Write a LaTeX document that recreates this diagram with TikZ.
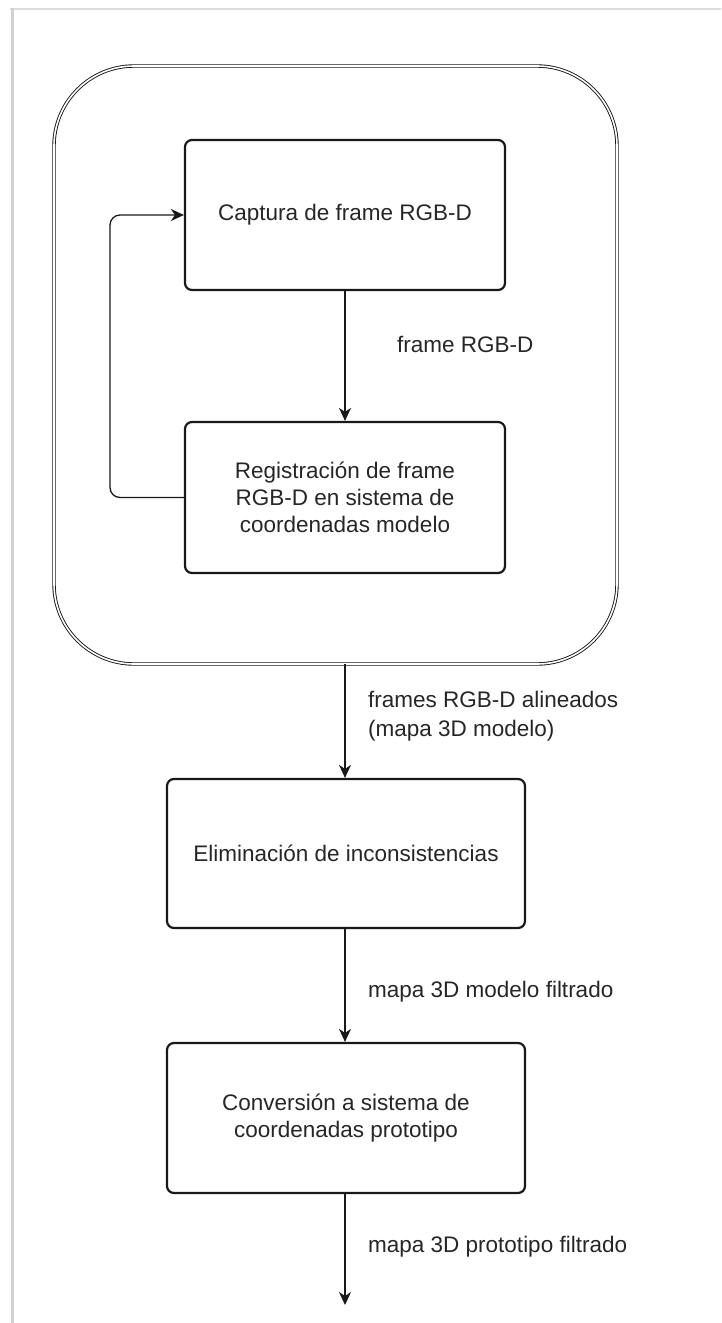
\documentclass[tikz,border=0pt]{standalone}
\usepackage{fontspec}
\setmainfont{Liberation Sans}
\usetikzlibrary{arrows.meta}
\begin{document}
\begin{tikzpicture}[x=1pt,y=-1pt,
  every node/.style={font=\fontsize{22.5}{27}\selectfont, text=black!85},
  procbox/.style={draw=black!90, line width=2.2pt, rounded corners=7pt, align=center, inner sep=0pt},
  arr/.style={draw=black!90, line width=1.3pt, -{Stealth[length=13pt,width=12pt,inset=4pt]}},
  lbl/.style={anchor=west, align=left, inner sep=0pt, font=\fontsize{22.5}{29}\selectfont}
]
\useasboundingbox (0,0) rectangle (721,1323);
% page shadow edges
\fill[black!14] (10,8) rectangle (721,9.5);
\fill[black!18] (11,8) rectangle (14,1323);

% outer container
\node[draw=black!90, double=white, line width=0.9pt, double distance=1.6pt,
      rounded corners=80pt, minimum width=563pt, minimum height=598pt, inner sep=0pt]
      (outer) at (335.5,365) {};

\node[procbox, minimum width=320pt, minimum height=150pt] (b1) at (345,215) {Captura de frame RGB-D};
\node[procbox, minimum width=320pt, minimum height=151pt] (b2) at (345,497.5)
  {Registración de frame\\RGB-D en sistema de\\coordenadas modelo};
\node[procbox, minimum width=358pt, minimum height=149pt] (b3) at (346,853.5) {Eliminación de inconsistencias};
\node[procbox, minimum width=358pt, minimum height=150pt] (b4) at (346,1118)
  {Conversión a sistema de\\coordenadas prototipo};

\coordinate (end) at (345,1305);

% connectors
\draw[arr] (b1.south -| 345,0) -- (b2.north -| 345,0);
\draw[arr, rounded corners=10pt] (b2.west) -- (110,497.5) -- (110,215) -- (b1.west);
\draw[arr] (outer.south -| 345,0) -- (b3.north -| 345,0);
\draw[arr] (b3.south -| 345,0) -- (b4.north -| 345,0);
\draw[arr] (b4.south -| 345,0) -- (end);

% labels
\node[lbl] (l1) at (397,344) {frame RGB-D};
\node[lbl] (l2) at (368,716.5) {frames RGB-D alineados\\(mapa 3D modelo)};
\node[lbl] (l3) at (368,992) {mapa 3D modelo filtrado};
\node[lbl] (l4) at (368,1247) {mapa 3D prototipo filtrado};
\end{tikzpicture}
\end{document}
